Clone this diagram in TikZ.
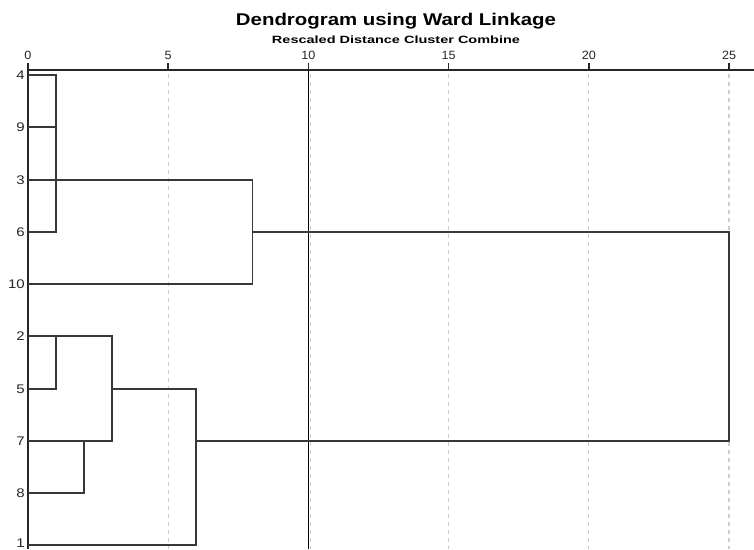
\documentclass[tikz,border=0pt]{standalone}
\usepackage{fontspec}
\setmainfont{Liberation Sans}
\newfontfamily\titlefont[FakeStretch=1.2]{Liberation Sans}
\newfontfamily\subfont[FakeStretch=1.38]{Liberation Sans}
\newfontfamily\rowfont[FakeStretch=1.2]{Liberation Sans}
\newfontfamily\tickfont[FakeStretch=1.05]{Liberation Sans}
\begin{document}
\begin{tikzpicture}[x=1pt,y=-1pt,
  branch/.style={line width=1.5pt,draw=black!78},
  axisline/.style={line width=1.5pt,draw=black!85},
  guide/.style={line width=1.3pt,draw=black!20,dash pattern=on 4pt off 4pt},
  cutline/.style={line width=1.8pt,draw=black},
  rowlab/.style={anchor=east,inner sep=0pt,font=\rowfont\fontsize{12.5}{12.5}\selectfont,text=black!85},
  ticklab/.style={anchor=base,inner sep=0pt,font=\tickfont\fontsize{12}{12}\selectfont,text=black!85}]
\useasboundingbox (0,0) rectangle (754,549);
% distance scale: 0 at x=28, 25 at x=729
\def\dx#1{28+28.04*#1}
% titles
\node[font=\titlefont\bfseries\fontsize{17}{17}\selectfont] (title) at (396,21) {Dendrogram using Ward Linkage};
\node[font=\subfont\bfseries\fontsize{10.5}{10.5}\selectfont] (subtitle) at (396,40) {Rescaled Distance Cluster Combine};
% guide lines
\foreach \d in {5,15,20,25}
  \draw[guide] ({\dx{\d}},74) -- ({\dx{\d}},549);
\draw[guide] ({\dx{10}+2},74) -- ({\dx{10}+2},549);
\draw[cutline] ({\dx{10}},70) -- ({\dx{10}},549);
% axis with ticks and labels
\draw[axisline] (28,70) -- (754,70);
\foreach \d in {0,5,10,15,20,25} {
  \draw[axisline] ({\dx{\d}},63) -- ({\dx{\d}},70);
  \node[ticklab] (t\d) at ({\dx{\d}},59.5) {\d};
}
\draw[axisline,line width=2pt] (28,64) -- (28,549);
% case rows
\foreach \c/\y in {4/75,9/127,3/180,6/232,10/284,2/336,5/389,7/441,8/493,1/545} {
  \coordinate (c\c) at (28,\y);
}
\foreach \c/\y in {4/75,9/127,3/180,6/232,10/284,2/336,5/389,7/441,8/493,1/543} {
  \node[rowlab] (r\c) at (25,\y) {\c};
}
% upper cluster
\coordinate (ja) at ({\dx{1}},75);
\draw[branch] (c4) -- (c4 -| ja) -- (c6 -| ja) -- (c6);
\draw[branch] (c9) -- (c9 -| ja);
\coordinate (jc) at ({\dx{8}},180);
\draw[branch] (c3) -- (jc) -- (c10 -| jc) -- (c10);
\coordinate (jtop) at ({\dx{8}},232);
% lower cluster
\coordinate (jd) at ({\dx{1}},336);
\draw[branch] (c2) -- (c2 -| jd);
\draw[branch] (jd) -- (c5 -| jd) -- (c5);
\coordinate (je) at ({\dx{3}},336);
\draw[branch] (jd) -- (je) -- (c7 -| je) -- (c7);
\coordinate (jf) at ({\dx{2}},441);
\draw[branch] (jf) -- (c8 -| jf) -- (c8);
\coordinate (jg) at ({\dx{3}},389);
\coordinate (jh) at ({\dx{6}},389);
\draw[branch] (jg) -- (jh) -- (c1 -| jh) -- (c1);
\coordinate (jbot) at ({\dx{6}},441);
% root
\coordinate (root) at ({\dx{25}},232);
\draw[branch] (jtop) -- (root) -- (root |- jbot) -- (jbot);
\end{tikzpicture}
\end{document}
